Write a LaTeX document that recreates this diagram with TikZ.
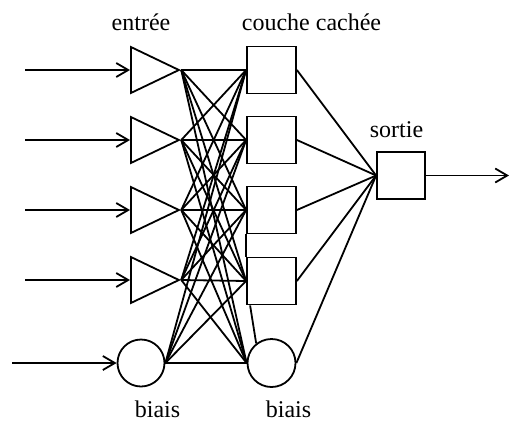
\documentclass[tikz,border=0pt]{standalone}
\usepackage{fontspec}
\setmainfont{Liberation Serif}
\usetikzlibrary{shapes.geometric,arrows.meta}
\begin{document}
\begin{tikzpicture}[x=1pt,y=-1pt,line width=1.8pt,
  inp/.style={draw, isosceles triangle, isosceles triangle stretches, shape border rotate=0,
              minimum width=46pt, minimum height=48pt, inner sep=0pt, anchor=west},
  hid/.style={draw, rectangle, minimum width=49pt, minimum height=47pt, inner sep=0pt},
  bia/.style={draw, circle, minimum size=47pt, inner sep=0pt},
  lab/.style={font=\fontsize{24}{28}\selectfont, anchor=base, inner sep=0pt},
  arr/.style={-{Straight Barb[length=12pt,width=14pt,line width=1.8pt]}}
]
\useasboundingbox (0,0) rectangle (510,421);
% input layer
\node[inp] (i1) at (130,70) {};
\node[inp] (i2) at (130,140) {};
\node[inp] (i3) at (130,210) {};
\node[inp] (i4) at (130,280) {};
\node[bia] (ib) at (141,363) {};
% hidden layer
\node[hid] (h1) at (271.5,70) {};
\node[hid] (h2) at (271.5,140) {};
\node[hid] (h3) at (271.5,210) {};
\node[hid] (h4) at (271.5,281) {};
\node[bia, minimum size=48pt] (hb) at (271.5,363) {};
% output
\node[hid, minimum width=48pt] (o) at (401,175.5) {};
% free ends
\coordinate (a1) at (25,70);
\coordinate (a2) at (25,140);
\coordinate (a3) at (25,210);
\coordinate (a4) at (25,280);
\coordinate (ab) at (12,363);
\coordinate (oe) at (509,175.5);
% labels
\node[lab] (le) at (141,30) {entrée};
\node[lab] (lc) at (311.5,30) {couche cachée};
\node[lab] (ls) at (396.5,137) {sortie};
\node[lab] (lb1) at (157.5,417) {biais};
\node[lab] (lb2) at (288.5,417) {biais};
% input arrows
\draw[arr] (a1) -- (i1.west);
\draw[arr] (a2) -- (i2.west);
\draw[arr] (a3) -- (i3.west);
\draw[arr] (a4) -- (i4.west);
\draw[arr] (ab) -- (ib.west);
% input -> hidden
\foreach \s in {i1,i2,i3,i4} {
  \foreach \t in {h1,h2,h3,h4} \draw (\s.apex) -- (\t.west);
  \draw (\s.apex) -- (hb.west);
}
\foreach \t in {h1,h2,h3,h4} \draw (ib.east) -- (\t.west);
\draw (ib.east) -- (hb.west);
% hidden -> output
\foreach \s in {h1,h2,h3,h4} \draw (\s.east) -- (o.west);
\draw (hb.east) -- (o.west);
\draw[arr] (o.east) -- (oe);
% stray strokes
\draw (h3.south west) -- (h4.north west);
\draw ([xshift=4pt]h4.south west) -- (hb.128);
\end{tikzpicture}
\end{document}
